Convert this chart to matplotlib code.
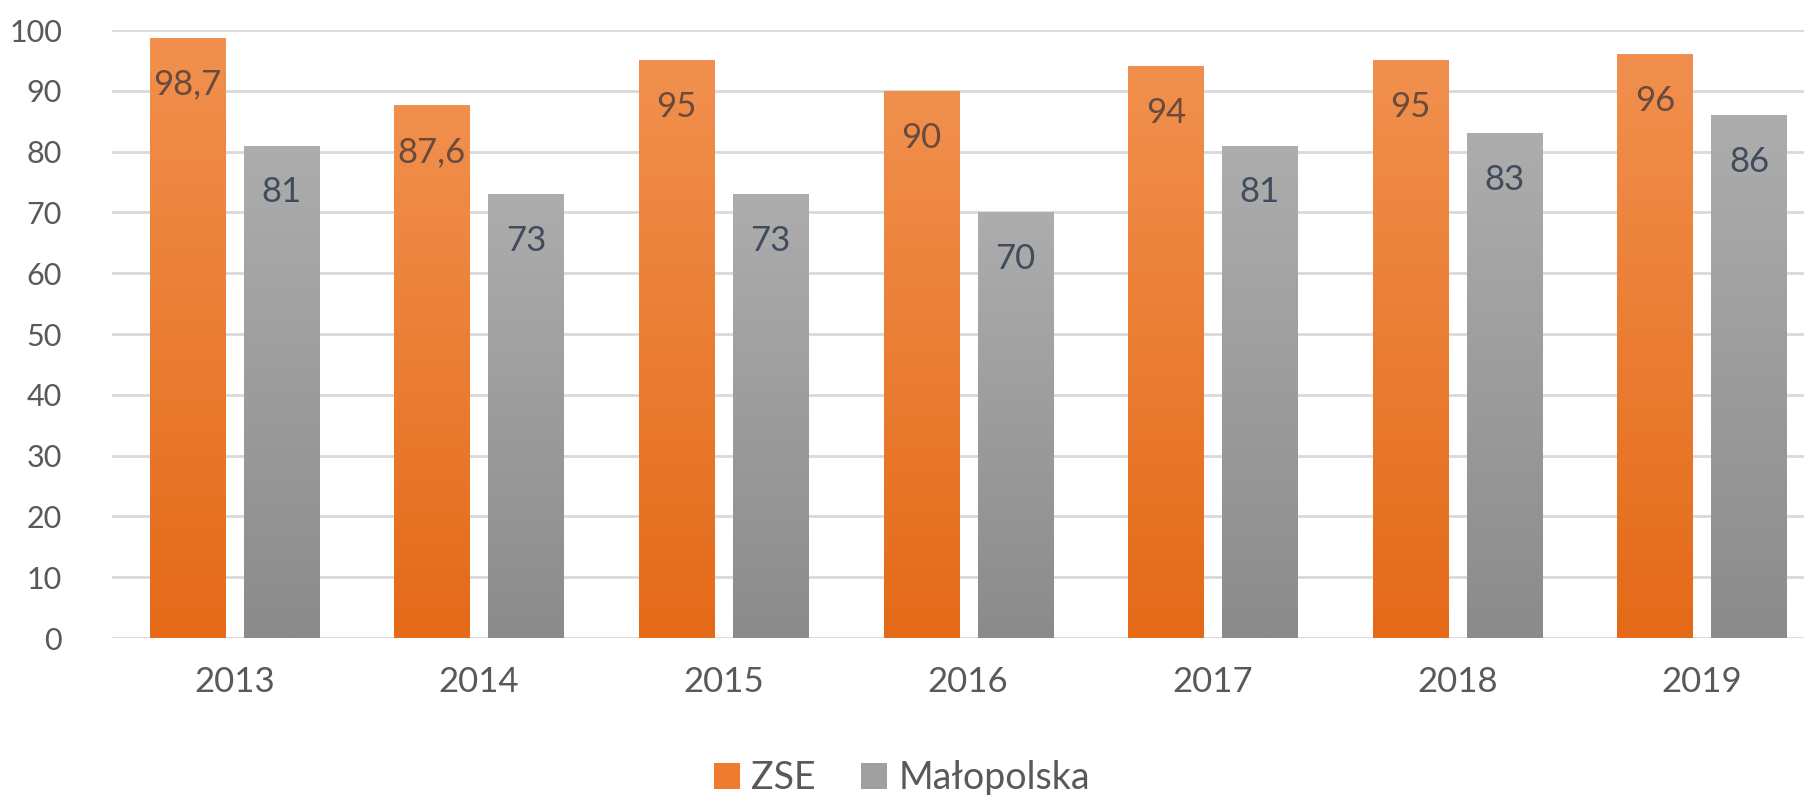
import matplotlib.pyplot as plt
import numpy as np
from matplotlib.colors import LinearSegmentedColormap
from matplotlib.patches import Patch

plt.rcParams['font.family'] = ['Lato', 'DejaVu Sans']

years = ['2013', '2014', '2015', '2016', '2017', '2018', '2019']
zse = [98.7, 87.6, 95, 90, 94, 95, 96]
malopolska = [81, 73, 73, 70, 81, 83, 86]

orange_cmap = LinearSegmentedColormap.from_list('o', ['#E46A18', '#F1904E'])
gray_cmap = LinearSegmentedColormap.from_list('g', ['#8B8B8B', '#ADADAD'])


def fmt(v):
    s = ('%g' % v).replace('.', ',')
    return s


fig = plt.figure(figsize=(18.04, 7.95), dpi=100)
ax = fig.add_axes([112 / 1804, 157 / 795, 1 - 112 / 1804, (638 - 30) / 795])

x = np.arange(len(years))
w = 0.307
off = 0.192
bars1 = ax.bar(x - off, zse, w, color='none', zorder=3)
bars2 = ax.bar(x + off, malopolska, w, color='none', zorder=3)

grad = np.linspace(0, 1, 256).reshape(-1, 1)
for bars, cmap in ((bars1, orange_cmap), (bars2, gray_cmap)):
    for b in bars:
        x0, y0 = b.get_x(), b.get_y()
        im = ax.imshow(grad, cmap=cmap, origin='lower', aspect='auto',
                       extent=[x0, x0 + b.get_width(), y0, y0 + b.get_height()],
                       zorder=3)
        im.set_clip_path(b)

for xi, v in zip(x, zse):
    ax.text(xi - off, v - 7.7, fmt(v), ha='center', va='center',
            fontsize=25, color='#6a4a3c', zorder=4)
for xi, v in zip(x, malopolska):
    ax.text(xi + off, v - 7.7, fmt(v), ha='center', va='center',
            fontsize=25, color='#404b5c', zorder=4)

ax.set_xlim(-0.5, 6.417)
ax.set_ylim(0, 100)
ax.set_yticks(range(0, 101, 10))
ax.set_xticks(x)
ax.set_xticklabels(years)
ax.tick_params(axis='both', length=0, labelcolor='#595959')
ax.tick_params(axis='y', pad=36, labelsize=22)
ax.tick_params(axis='x', pad=20, labelsize=25)
ax.grid(axis='y', color='#D9D9D9', linewidth=2, zorder=0)
ax.set_axisbelow(True)
for s in ax.spines.values():
    s.set_visible(False)

handles = [Patch(facecolor='#EF7B30', label='ZSE'),
           Patch(facecolor='#A0A0A0', label='Małopolska')]
fig.legend(handles=handles, loc='center', bbox_to_anchor=(0.5, 1 - 778 / 795),
           ncol=2, frameon=False, fontsize=27, labelcolor='#595959',
           handlelength=0.7, handleheight=0.7, handletextpad=0.3,
           columnspacing=1.2)

fig.savefig('out.png', dpi=100)
